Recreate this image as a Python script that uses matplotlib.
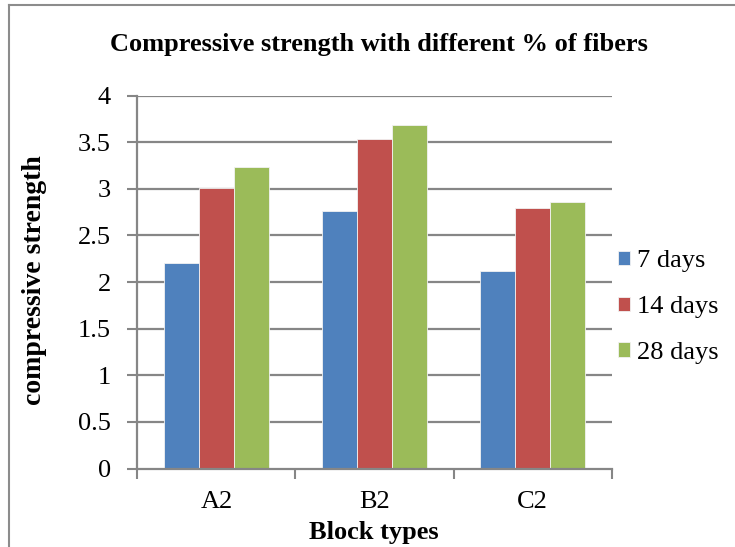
import matplotlib
matplotlib.use("Agg")
import matplotlib.pyplot as plt
import numpy as np
from matplotlib.lines import Line2D

plt.rcParams['font.family'] = ['Liberation Serif', 'DejaVu Serif']

blocks = ["A2", "B2", "C2"]
series = ["7 days", "14 days", "28 days"]
days7 = [2.20, 2.76, 2.12]
days14 = [3.01, 3.54, 2.79]
days28 = [3.23, 3.69, 2.86]
colors = ["#4F81BD", "#C0504D", "#9BBB59"]
yticks = [0, 0.5, 1, 1.5, 2, 2.5, 3, 3.5, 4]
ytick_labels = ["0", "0.5", "1", "1.5", "2", "2.5", "3", "3.5", "4"]

W, H = 735, 547
fig = plt.figure(figsize=(W / 100, H / 100), dpi=100)
ax = fig.add_axes([137.3 / W, 1 - 468.5 / H, (611.7 - 137.3) / W, (468.5 - 95.7) / H])

grid_col = "#868686"
fs = 19
x = np.arange(len(blocks))
bw = 1 / 4.5
for i, (vals, name) in enumerate(zip([days7, days14, days28], series)):
    ax.bar(x + (i - 1) * bw, vals, width=bw, color=colors[i], label=name,
           edgecolor="#f2f2f2", linewidth=0.6, zorder=3)

ax.set_xlim(-0.5, len(blocks) - 0.5)
ax.set_ylim(0, 4)
ax.set_yticks(yticks)
ax.set_yticklabels(ytick_labels)
ax.set_xticks(x)
ax.set_xticklabels(blocks)
ax.set_xticks(np.arange(len(blocks) + 1) - 0.5, minor=True)
ax.tick_params(axis="x", which="major", length=0, labelsize=fs, pad=16)
ax.tick_params(axis="x", which="minor", length=7, width=1.5, color=grid_col)
ax.tick_params(axis="y", length=7, width=1.5, color=grid_col, labelsize=fs, pad=12)

for y in yticks[1:]:
    ax.axhline(y, color=grid_col, linewidth=1.6, zorder=1)
for side in ["top", "right"]:
    ax.spines[side].set_visible(False)
for side in ["left", "bottom"]:
    ax.spines[side].set_color(grid_col)
    ax.spines[side].set_linewidth(1.6)
    ax.spines[side].set_zorder(4)

fig.text(35 / W, 1 - 280 / H, "compressive strength", rotation=90,
         ha="center", va="center", fontsize=fs + 1, fontweight="bold")
fig.text(374 / W, 1 - 533 / H, "Block types",
         ha="center", va="center", fontsize=fs, fontweight="bold")
fig.text(379 / W, 1 - 44 / H, "Compressive strength with different % of fibers",
         ha="center", va="center", fontsize=fs, fontweight="bold")

leg = ax.legend(loc="center left", bbox_to_anchor=(1.0, 0.433), frameon=False,
                fontsize=fs, handlelength=0.45, handleheight=0.45,
                handletextpad=0.25, labelspacing=0.9, borderaxespad=0.0,
                borderpad=0.25)

# chart frame (top and left edges)
fig.add_artist(Line2D([9 / W, 1], [1 - 4.5 / H, 1 - 4.5 / H], color="#8c8c8c",
                      linewidth=1.5, transform=fig.transFigure))
fig.add_artist(Line2D([9 / W, 9 / W], [0, 1 - 4.5 / H], color="#8c8c8c",
                      linewidth=1.5, transform=fig.transFigure))

fig.savefig("out.png", dpi=100)
